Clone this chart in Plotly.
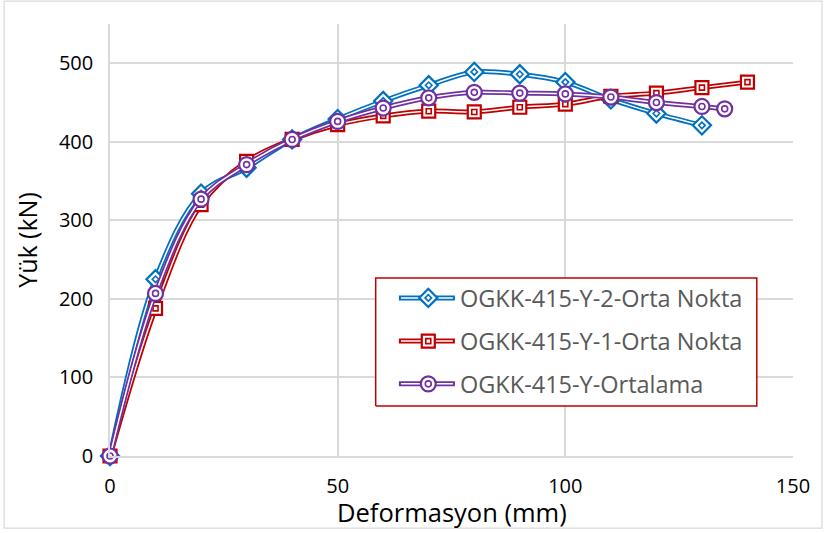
import plotly.graph_objects as go

# ---- data ----
x_blue = [0, 10, 20, 30, 40, 50, 60, 70, 80, 90, 100, 110, 120, 130]
y_blue = [0, 225, 334, 367, 403, 429, 452, 472, 489, 486, 476, 454, 436, 421]
x_red = [0, 10, 20, 30, 40, 50, 60, 70, 80, 90, 100, 110, 120, 130, 140]
y_red = [0, 188, 320, 375, 403, 422, 433, 439, 438, 444, 448, 458, 462, 469, 476]
x_pur = [0, 10, 20, 30, 40, 50, 60, 70, 80, 90, 100, 110, 120, 130, 135]
y_pur = [0, 207, 327, 371, 403, 426, 443, 456, 463, 462, 461, 457, 450, 445, 442]
names = ["OGKK-415-Y-2-Orta Nokta", "OGKK-415-Y-1-Orta Nokta", "OGKK-415-Y-Ortalama"]
colors = ["#0070C0", "#C00000", "#7030A0"]
symbols = ["diamond", "square", "circle"]
outer_sizes = [14, 13, 15]
inner_sizes = [5, 5, 6]
x_ticks = [0, 50, 100, 150]
y_ticks = [0, 100, 200, 300, 400, 500]

FONT = "Open Sans"
fig = go.Figure()

series = [(x_blue, y_blue), (x_red, y_red), (x_pur, y_pur)]
for (xs, ys), c, sym, so, si in zip(series, colors, symbols, outer_sizes, inner_sizes):
    fig.add_trace(go.Scatter(x=xs, y=ys, mode="lines", line=dict(color=c, width=5, shape="spline"),
                             showlegend=False, hoverinfo="skip", cliponaxis=False))
    fig.add_trace(go.Scatter(x=xs, y=ys, mode="lines", line=dict(color="white", width=1.5, shape="spline"),
                             showlegend=False, hoverinfo="skip", cliponaxis=False))
    fig.add_trace(go.Scatter(x=xs, y=ys, mode="markers", cliponaxis=False,
                             marker=dict(symbol=sym, size=so, color="white", line=dict(color=c, width=2.2)),
                             showlegend=False))
    fig.add_trace(go.Scatter(x=xs, y=ys, mode="markers", cliponaxis=False,
                             marker=dict(symbol=sym + "-open", size=si, color=c, line=dict(color=c, width=1.6)),
                             showlegend=False, hoverinfo="skip"))

# ---- custom legend (overlay axes in plot-area fractions) ----
bx0, bx1, by0, by1 = 0.389, 0.947, 0.116, 0.412
fig.add_trace(go.Scatter(x=[bx0, bx1, bx1, bx0, bx0], y=[by0, by0, by1, by1, by0], xaxis="x2", yaxis="y2",
                         mode="lines", fill="toself", fillcolor="white",
                         line=dict(color="#C00000", width=1.5), showlegend=False, hoverinfo="skip"))
leg_rows = [0.366, 0.266, 0.167]
lx0, lx1, lxm = 0.423, 0.505, 0.466
for row, name, c, sym, so, si in zip(leg_rows, names, colors, symbols, outer_sizes, inner_sizes):
    fig.add_trace(go.Scatter(x=[lx0, lx1], y=[row, row], xaxis="x2", yaxis="y2", mode="lines",
                             line=dict(color=c, width=5), showlegend=False, hoverinfo="skip"))
    fig.add_trace(go.Scatter(x=[lx0 + 0.003, lx1 - 0.003], y=[row, row], xaxis="x2", yaxis="y2", mode="lines",
                             line=dict(color="white", width=1.5), showlegend=False, hoverinfo="skip"))
    fig.add_trace(go.Scatter(x=[lxm], y=[row], xaxis="x2", yaxis="y2", mode="markers",
                             marker=dict(symbol=sym, size=so, color="white", line=dict(color=c, width=2.2)),
                             showlegend=False, hoverinfo="skip"))
    fig.add_trace(go.Scatter(x=[lxm], y=[row], xaxis="x2", yaxis="y2", mode="markers",
                             marker=dict(symbol=sym + "-open", size=si, color=c, line=dict(color=c, width=1.6)),
                             showlegend=False, hoverinfo="skip"))
    fig.add_annotation(x=0.509, y=row, xref="x domain", yref="y domain", text=name, showarrow=False,
                       xanchor="left", yanchor="middle", font=dict(family=FONT, size=23.5, color="#595959"))

# x axis title (placed as annotation to match position)
fig.add_annotation(x=0.5, y=-0.13, xref="paper", yref="paper", text="Deformasyon (mm)", showarrow=False,
                   xanchor="center", yanchor="middle", font=dict(family=FONT, size=25.5, color="black"))

# outer chart border
fig.add_shape(type="rect", xref="paper", yref="paper", x0=-0.155, x1=1.0425, y0=-0.167, y1=1.053,
              line=dict(color="#D9D9D9", width=1.2), layer="below")

fig.update_layout(
    width=825, height=533,
    margin=dict(l=110, r=32, t=24, b=77),
    paper_bgcolor="white", plot_bgcolor="white",
    font=dict(family=FONT, color="black"),
    xaxis=dict(range=[0, 150], tickvals=x_ticks, showgrid=True, gridcolor="#D9D9D9", gridwidth=1.5,
               showline=True, linecolor="#D9D9D9", linewidth=1.5, zeroline=False,
               ticks="", ticklabelstandoff=11, tickfont=dict(size=20, color="black")),
    yaxis=dict(range=[0, 550], tickvals=y_ticks, showgrid=True, gridcolor="#D9D9D9", gridwidth=1.5,
               showline=True, linecolor="#D9D9D9", linewidth=1.5, zeroline=False,
               ticks="", ticklabelstandoff=11, tickfont=dict(size=20, color="black"),
               title=dict(text="Yük (kN)", font=dict(size=25, color="black"), standoff=14)),
    xaxis2=dict(range=[0, 1], overlaying="x", visible=False, fixedrange=True),
    yaxis2=dict(range=[0, 1], overlaying="y", visible=False, fixedrange=True),
    showlegend=False,
)

fig.write_html("out.html", config={"displayModeBar": False},
               post_script="document.body.style.margin='0';")
